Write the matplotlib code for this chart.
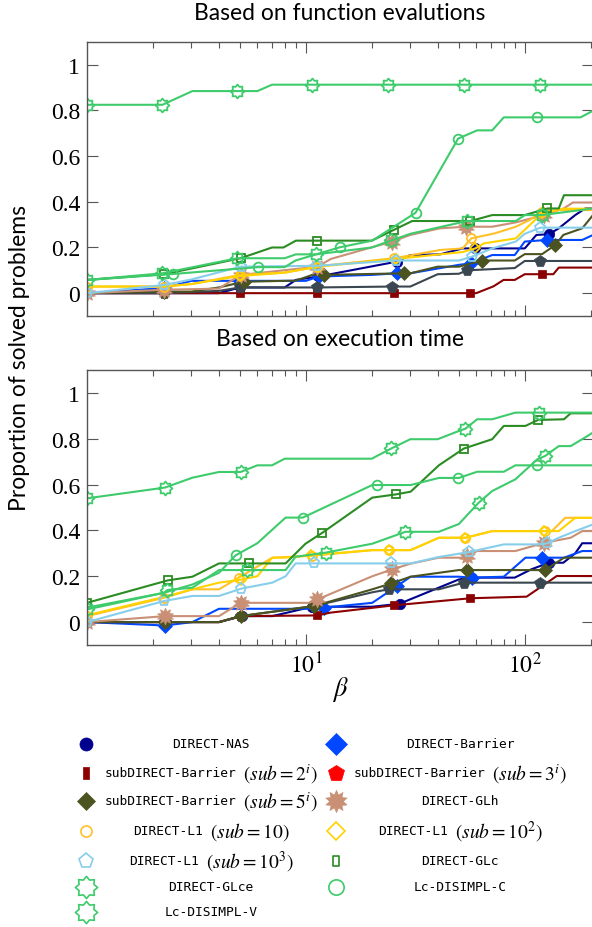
import matplotlib
matplotlib.use('Agg')
import matplotlib.pyplot as plt
from matplotlib.path import Path
from matplotlib.ticker import FixedLocator, NullFormatter

plt.rcParams['mathtext.fontset'] = 'stix'
plt.rcParams['font.family'] = ['Liberation Serif', 'DejaVu Serif']

# ---- panel 1: based on function evaluations (beta, proportion, marker betas)
fe_nas_b = [1, 4, 5, 8, 9, 11.4, 26, 30, 41, 52, 59, 100, 113, 129, 143, 170, 189, 205]
fe_nas_y = [0, 0, 0.025, 0.025, 0.058, 0.073, 0.138, 0.167, 0.17, 0.196, 0.196, 0.196, 0.255, 0.258, 0.284, 0.342, 0.371, 0.371]
fe_nas_m = [5, 11.4, 26, 59, 129]

fe_bar_b = [1, 2.25, 3, 5, 10, 11.5, 20, 26, 30, 50, 57, 71, 90, 100, 126, 183, 205]
fe_bar_y = [0, 0.022, 0.054, 0.054, 0.054, 0.073, 0.08, 0.087, 0.087, 0.124, 0.131, 0.167, 0.167, 0.226, 0.233, 0.233, 0.255]
fe_bar_m = [2.25, 5, 11.5, 26, 57, 126]

fe_s2_b = [1, 5, 11.3, 25.2, 56.5, 60, 72, 80, 90, 100, 120, 135, 143, 205]
fe_s2_y = [0, 0, 0, 0, 0, 0, 0.03, 0.058, 0.058, 0.083, 0.083, 0.083, 0.112, 0.112]
fe_s2_m = [5, 11.3, 25.2, 56.5, 120]

fe_s3_b = [1, 2.25, 4, 5, 11.3, 24.8, 30, 40, 50, 54.5, 90, 100, 118, 205]
fe_s3_y = [0, 0, 0.01, 0.025, 0.025, 0.029, 0.029, 0.083, 0.085, 0.1, 0.11, 0.141, 0.141, 0.141]
fe_s3_m = [2.25, 5, 11.3, 24.8, 54.5, 118]

fe_s5_b = [1, 2.25, 3, 4, 5.2, 9, 10.7, 12.1, 28, 30, 40, 50, 63.8, 90, 100, 120, 138, 150, 183, 205]
fe_s5_y = [0, 0.007, 0.007, 0.025, 0.05, 0.055, 0.08, 0.08, 0.087, 0.087, 0.116, 0.116, 0.143, 0.143, 0.171, 0.171, 0.211, 0.255, 0.284, 0.342]
fe_s5_m = [2.25, 5.2, 12.1, 28, 63.8, 138]

fe_glh_b = [1, 2.25, 4, 5.03, 11.3, 13, 24.8, 30, 41, 54, 71, 91, 100, 122, 150, 166, 205]
fe_glh_y = [0, 0.015, 0.02, 0.08, 0.116, 0.15, 0.226, 0.255, 0.284, 0.291, 0.291, 0.31, 0.32, 0.342, 0.37, 0.397, 0.397]
fe_glh_m = [1, 2.25, 5.03, 11.3, 24.8, 54, 122]

fe_l10_b = [1, 2.25, 3, 5, 8, 11.3, 13, 25.4, 41, 52, 57, 73, 91, 105, 120, 143, 205]
fe_l10_y = [0.029, 0.029, 0.04, 0.08, 0.09, 0.116, 0.124, 0.153, 0.189, 0.196, 0.24, 0.262, 0.291, 0.32, 0.357, 0.364, 0.364]
fe_l10_m = [1, 2.25, 5, 11.3, 25.4, 57, 120]

fe_l100_b = [1, 2.25, 3, 5, 8, 11.4, 25.7, 41, 52, 59.5, 65, 91, 120, 150, 205]
fe_l100_y = [0.029, 0.029, 0.04, 0.075, 0.09, 0.116, 0.15, 0.17, 0.18, 0.196, 0.218, 0.24, 0.35, 0.37, 0.37]
fe_l100_m = [5, 11.4, 25.7, 59.5, 120]

fe_l1k_b = [1, 2.25, 3, 5.03, 11.3, 25.7, 50, 57.5, 71, 91, 100, 118, 205]
fe_l1k_y = [0, 0.036, 0.06, 0.116, 0.12, 0.143, 0.143, 0.16, 0.196, 0.226, 0.26, 0.287, 0.287]
fe_l1k_m = [1, 2.25, 5.03, 11.3, 25.7, 57.5, 118]

fe_glc_b = [1, 2.25, 5.03, 7, 7.9, 9, 11.3, 20, 25.2, 30.6, 56.5, 71, 100, 127, 143, 151, 205]
fe_glc_y = [0.058, 0.083, 0.153, 0.2, 0.2, 0.23, 0.23, 0.23, 0.277, 0.316, 0.316, 0.342, 0.342, 0.371, 0.371, 0.429, 0.429]
fe_glc_m = [2.25, 5.03, 11.3, 25.2, 56.5, 127]

fe_glce_b = [1, 2.21, 4.86, 8, 9, 11.1, 20, 24.6, 30, 54.5, 91, 100, 120, 205]
fe_glce_y = [0.058, 0.087, 0.153, 0.153, 0.17, 0.17, 0.2, 0.231, 0.26, 0.316, 0.316, 0.342, 0.342, 0.371]
fe_glce_m = [1, 2.21, 4.86, 11.1, 24.6, 54.5, 120]

fe_c_b = [1, 2.47, 6.04, 8, 8.97, 14.3, 20.1, 31.7, 49.6, 60.6, 71, 80.2, 114, 180, 205]
fe_c_y = [0.058, 0.084, 0.114, 0.114, 0.143, 0.201, 0.23, 0.352, 0.677, 0.713, 0.713, 0.77, 0.77, 0.77, 0.799]
fe_c_m = [2.47, 6.04, 14.3, 31.7, 49.6, 114]

fe_v_b = [1, 2.21, 3.03, 4.86, 6, 7, 10.7, 23.8, 53, 118, 205]
fe_v_y = [0.825, 0.825, 0.885, 0.885, 0.885, 0.913, 0.913, 0.913, 0.913, 0.913, 0.913]
fe_v_m = [1, 2.21, 4.86, 10.7, 23.8, 53, 118]

# ---- panel 2: based on execution time
et_nas_b = [1, 4.01, 5.12, 7.02, 10.7, 20.1, 26.8, 30.1, 50, 57.5, 90, 107, 129, 150, 170, 183, 205]
et_nas_y = [0, 0, 0.026, 0.026, 0.067, 0.067, 0.08, 0.1, 0.186, 0.194, 0.194, 0.23, 0.259, 0.259, 0.3, 0.344, 0.344]
et_nas_m = [5.12, 10.7, 26.8, 57.5, 129]

et_bar_b = [1, 2.27, 3.03, 4.01, 10.7, 12.1, 20.1, 26.1, 30.1, 50, 57.5, 80.2, 100.7, 120, 151, 183, 205]
et_bar_y = [0, -0.015, 0, 0.058, 0.058, 0.063, 0.084, 0.157, 0.198, 0.198, 0.194, 0.198, 0.281, 0.281, 0.281, 0.31, 0.31]
et_bar_m = [2.27, 12.1, 26.1, 57.5, 120]

et_s2_b = [1, 4.01, 5.03, 11.3, 12.9, 25.2, 56.5, 102, 140, 205]
et_s2_y = [0, 0, 0.026, 0.029, 0.041, 0.073, 0.104, 0.111, 0.201, 0.201]
et_s2_m = [5.03, 11.3, 25.2, 56.5]

et_s3_b = [1, 2.27, 4.01, 5.03, 10.9, 20.1, 23.9, 40.5, 52.6, 118, 205]
et_s3_y = [0, 0, 0, 0.026, 0.07, 0.13, 0.143, 0.143, 0.172, 0.172, 0.172]
et_s3_m = [1, 2.27, 5.03, 10.9, 23.9, 52.6, 118]

et_s5_b = [1, 2.27, 4.01, 5.03, 10.9, 20.1, 24.6, 30.1, 50, 54.5, 124, 151, 205]
et_s5_y = [0, 0, 0, 0.026, 0.07, 0.143, 0.169, 0.198, 0.227, 0.227, 0.227, 0.281, 0.281]
et_s5_m = [2.27, 5.03, 10.9, 24.6, 54.5, 124]

et_glh_b = [1, 2.27, 4.01, 5.03, 10.3, 11.3, 20.1, 24.8, 30.1, 40.5, 53.6, 54.5, 60.6, 90.6, 123, 162, 183, 205]
et_glh_y = [0, 0.026, 0.026, 0.084, 0.084, 0.099, 0.2, 0.23, 0.255, 0.281, 0.281, 0.288, 0.31, 0.31, 0.346, 0.368, 0.397, 0.397]
et_glh_m = [1, 2.27, 5.03, 11.3, 24.8, 54.5, 123]

et_l10_b = [1, 2.25, 3.03, 4.01, 4.94, 7.02, 9.96, 10.7, 20.1, 23.9, 30.1, 40.5, 53.6, 71, 124, 133, 153, 205]
et_l10_y = [0.026, 0.106, 0.143, 0.143, 0.194, 0.281, 0.288, 0.29, 0.314, 0.314, 0.314, 0.368, 0.368, 0.397, 0.397, 0.397, 0.455, 0.455]
et_l10_m = [1, 2.25, 4.94, 10.7, 23.9, 53.6, 124]

et_l100_b = [1, 2.25, 3.03, 4.01, 5.03, 6, 7.02, 7.94, 10.5, 20.1, 23.9, 30.1, 40.5, 53.6, 71, 123, 143, 170, 205]
et_l100_y = [0.03, 0.11, 0.143, 0.172, 0.185, 0.2, 0.281, 0.281, 0.291, 0.314, 0.314, 0.314, 0.368, 0.368, 0.397, 0.397, 0.397, 0.455, 0.455]
et_l100_m = [5.03, 10.5, 23.9, 53.6, 123]

et_l1k_b = [1, 2.25, 3.03, 4.01, 5.07, 7.02, 8.08, 8.97, 10.9, 24.4, 30.1, 40.5, 55.9, 80.2, 114, 126, 143, 170, 205]
et_l1k_y = [0, 0.092, 0.114, 0.114, 0.146, 0.172, 0.2, 0.256, 0.256, 0.256, 0.256, 0.284, 0.306, 0.339, 0.339, 0.343, 0.368, 0.397, 0.426]
et_l1k_m = [1, 2.25, 5.07, 10.9, 24.4, 55.9, 126]

et_glc_b = [1, 2.34, 3.03, 4.01, 5.5, 8.08, 9.96, 11.9, 20.1, 25.7, 30.1, 40.5, 52.6, 71, 80.2, 100.7, 115, 151, 162, 205]
et_glc_y = [0.084, 0.182, 0.198, 0.256, 0.256, 0.256, 0.342, 0.39, 0.543, 0.557, 0.569, 0.684, 0.757, 0.798, 0.856, 0.856, 0.882, 0.885, 0.911, 0.911]
et_glc_m = [1, 2.34, 5.5, 11.9, 25.7, 52.6, 115]

et_glce_b = [1, 2.25, 2.33, 3.03, 4.01, 5.4, 8.08, 8.97, 12.3, 20.1, 28.5, 40.5, 50, 61.6, 71, 90.6, 114, 124, 143, 162, 183, 205]
et_glce_y = [0.055, 0.128, 0.14, 0.15, 0.227, 0.227, 0.227, 0.285, 0.303, 0.342, 0.394, 0.394, 0.428, 0.521, 0.572, 0.623, 0.71, 0.725, 0.768, 0.768, 0.798, 0.827]
et_glce_m = [1, 2.33, 5.4, 12.3, 28.5, 61.6, 124]

et_c_b = [1, 2.25, 3.03, 4.01, 4.77, 6, 8.08, 9.68, 20.1, 21.2, 30.1, 40.5, 49.4, 50, 60.6, 80.2, 90.6, 114, 205]
et_c_y = [0.063, 0.128, 0.164, 0.215, 0.291, 0.344, 0.456, 0.456, 0.598, 0.598, 0.598, 0.629, 0.629, 0.629, 0.656, 0.656, 0.684, 0.684, 0.684]
et_c_m = [4.77, 9.68, 21.2, 49.4, 114]

et_v_b = [1, 2.27, 3.03, 4.01, 5.03, 6, 7, 8, 20, 24.6, 30, 40, 50, 53.6, 60.6, 71, 90.6, 116, 205]
et_v_y = [0.54, 0.587, 0.63, 0.655, 0.655, 0.684, 0.684, 0.713, 0.713, 0.758, 0.798, 0.798, 0.834, 0.844, 0.885, 0.885, 0.914, 0.914, 0.914]
et_v_m = [1, 2.27, 5.03, 11.1, 24.6, 53.6, 116]

order = ['nas', 'bar', 's2', 's3', 's5', 'glh', 'l10', 'l100', 'l1k', 'glc', 'glce', 'c', 'v']
names = {
    'nas': ('DIRECT-NAS', ''),
    'bar': ('DIRECT-Barrier', ''),
    's2': ('subDIRECT-Barrier', r'$(sub=2^i)$'),
    's3': ('subDIRECT-Barrier', r'$(sub=3^i)$'),
    's5': ('subDIRECT-Barrier', r'$(sub=5^i)$'),
    'glh': ('DIRECT-GLh', ''),
    'l10': ('DIRECT-L1', r'$(sub=10)$'),
    'l100': ('DIRECT-L1', r'$(sub=10^2)$'),
    'l1k': ('DIRECT-L1', r'$(sub=10^3)$'),
    'glc': ('DIRECT-GLc', ''),
    'glce': ('DIRECT-GLce', ''),
    'c': ('Lc-DISIMPL-C', ''),
    'v': ('Lc-DISIMPL-V', ''),
}

g = globals()
fe = {k: (g['fe_%s_b' % k], g['fe_%s_y' % k], g['fe_%s_m' % k]) for k in order}
et = {k: (g['et_%s_b' % k], g['et_%s_y' % k], g['et_%s_m' % k]) for k in order}

star8 = Path.unit_regular_star(8, 0.72)
star10 = Path.unit_regular_star(10, 0.6)
rect = Path([(-0.6, -1), (0.6, -1), (0.6, 1), (-0.6, 1), (0, 0)], closed=True)

green = '#3DCB6B'
# colour, marker, size in plot, filled, size in legend, legend marker, legend colour
styles = {
    'nas': ('#00008F', 'o', 7.5, True, 9.4, 'o', None),
    'bar': ('#0048FF', 'D', 7, True, 11, 'D', None),
    's2': ('#8B0000', 's', 6, True, 8, rect, None),
    's3': ('#3B4750', 'p', 8.5, True, 12, 'p', '#FF0000'),
    's5': ('#4B5320', 'D', 6.8, True, 8.7, 'D', None),
    'glh': ('#C99076', star10, 12, True, 16, star10, None),
    'l10': ('#FFC02A', 'o', 6.5, False, 8, 'o', None),
    'l100': ('#FFD200', 'D', 5.5, False, 8.7, 'D', None),
    'l1k': ('#87CEEB', 'p', 8, False, 11, 'p', None),
    'glc': ('#2A8C22', 's', 5.5, False, 7, rect, None),
    'glce': (green, star8, 10, False, 16, star8, None),
    'c': (green, 'o', 7, False, 11, 'o', None),
    'v': (green, star8, 10, False, 16, star8, None),
}

fig = plt.figure(figsize=(5.92, 9.28), dpi=100)
ax1 = fig.add_axes([87 / 592, 1 - 317 / 928, 506 / 592, 274 / 928])
ax2 = fig.add_axes([87 / 592, 1 - 646 / 928, 506 / 592, 275 / 928])


def draw(ax, series):
    for k in order:
        b, y, m = series[k]
        c, mk, ms, filled, _, _, _ = styles[k]
        idx = [i for i, v in enumerate(b) if v in m]
        ax.plot(b, y, color=c, lw=1.5, marker=mk, ms=ms, markevery=idx,
                mfc=c if filled else 'none', mec=c, mew=1.3 if not filled else 0.5)


draw(ax1, fe)
draw(ax2, et)

for ax in (ax1, ax2):
    ax.set_xscale('log')
    ax.set_xlim(1, 205)
    ax.set_ylim(-0.1, 1.1)
    ax.set_yticks([0, 0.2, 0.4, 0.6, 0.8, 1])
    ax.set_yticklabels(['0', '0.2', '0.4', '0.6', '0.8', '1'])
    ax.xaxis.set_major_locator(FixedLocator([10, 100]))
    ax.xaxis.set_minor_locator(FixedLocator([2, 3, 4, 5, 6, 7, 8, 9, 20, 30, 40, 50, 60, 70, 80, 90, 200]))
    ax.xaxis.set_minor_formatter(NullFormatter())
    ax.tick_params(which='both', direction='in', top=True, right=True, color='#555555', width=0.8)
    ax.tick_params(which='major', length=8, labelsize=17, pad=5)
    ax.tick_params(which='minor', length=4.5)
    for s in ax.spines.values():
        s.set_color('#555555')
        s.set_linewidth(1.0)

ax1.set_xticklabels([])
ax2.set_xticklabels([r'$10^1$', r'$10^2$'])

fig.text(340 / 592, 1 - 13 / 928, 'Based on function evalutions', family='Lato',
         fontsize=16.5, ha='center', va='center')
fig.text(340 / 592, 1 - 340 / 928, 'Based on execution time', family='Lato',
         fontsize=16.5, ha='center', va='center')
fig.text(20 / 592, 1 - 358 / 928, 'Proportion of solved problems', family='Lato',
         fontsize=16.5, ha='center', va='center', rotation=90)
fig.text(340 / 592, 1 - 690 / 928, r'$\beta$', fontsize=19, ha='center', va='center')

# legend drawn by hand: two columns, marker at left, label centred
lg = fig.add_axes([0, 0, 1, 1])
lg.set_xlim(0, 592)
lg.set_ylim(928, 0)
lg.axis('off')

col1 = ['nas', 's2', 's5', 'l10', 'l1k', 'glce', 'v']
col2 = ['bar', 's3', 'glh', 'l100', 'glc', 'c']
rows_y = [745, 774, 802, 832, 862, 888, 913]
fig.canvas.draw()
rend = fig.canvas.get_renderer()
for col, mx, cx in ((col1, 86, 211), (col2, 336, 460)):
    for key, ry in zip(col, rows_y):
        c, _, _, filled, lms, lmk, lc = styles[key]
        lc = lc or c
        lg.plot([mx], [ry], ls='none', marker=lmk, ms=lms, color=lc,
                mfc=lc if filled else 'none', mec=lc, mew=1.2 if not filled else 0.5)
        name, math = names[key]
        t1 = lg.text(0, ry, name, family='DejaVu Sans Mono', fontsize=9.3,
                     ha='left', va='center')
        w1 = t1.get_window_extent(rend).width
        if math:
            t2 = lg.text(0, ry, math, fontsize=14, ha='left', va='center')
            w2 = t2.get_window_extent(rend).width
            gap = 7
            x0 = cx - (w1 + gap + w2) / 2
            t1.set_x(x0)
            t2.set_x(x0 + w1 + gap)
        else:
            t1.set_x(cx - w1 / 2)

fig.savefig('out.png', dpi=100)
